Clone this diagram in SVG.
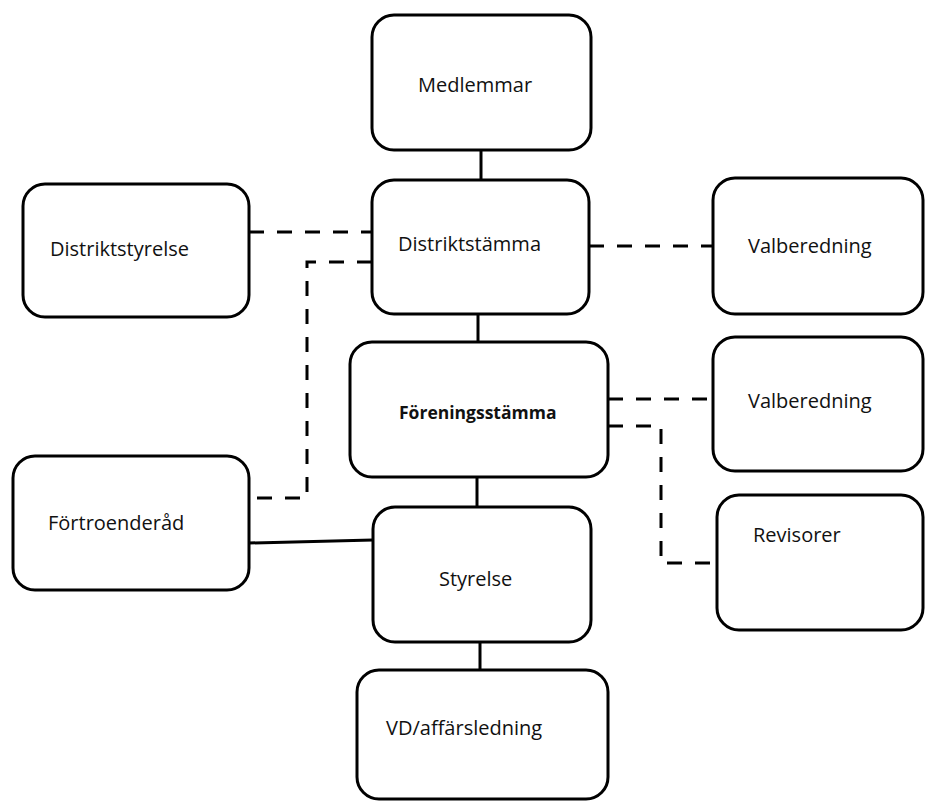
<svg xmlns="http://www.w3.org/2000/svg" width="926" height="801" viewBox="0 0 926 801">
<style>
.box{fill:#fff;stroke:#000;stroke-width:3}
.t{font-family:"Open Sans","Liberation Sans",sans-serif;font-size:20px;fill:#111}
.b{font-family:"Open Sans","Liberation Sans",sans-serif;font-size:17.5px;font-weight:bold;fill:#111}
.solid{fill:none;stroke:#000;stroke-width:3}
.dash{fill:none;stroke:#000;stroke-width:3;stroke-dasharray:15 13}
</style>
<rect width="926" height="801" fill="#fff"/>
<g id="connectors">
<line class="solid" x1="481" y1="150" x2="481" y2="180"/>
<line class="solid" x1="478" y1="314" x2="478" y2="342"/>
<line class="solid" x1="477" y1="477" x2="477" y2="507"/>
<line class="solid" x1="480" y1="642" x2="480" y2="670"/>
<line class="solid" x1="249" y1="543" x2="373" y2="540"/>
<line class="dash" x1="249" y1="232" x2="372" y2="232"/>
<polyline class="dash" points="372,262 307,262 307,498 249,498"/>
<line class="dash" x1="589" y1="246" x2="713" y2="246"/>
<line class="dash" x1="608" y1="399" x2="713" y2="399"/>
<polyline class="dash" points="608,426 661,426 661,563 717,563"/>
</g>
<g id="medlemmar"><rect class="box" x="372" y="15" width="219" height="135" rx="22"/><text class="t" x="418" y="92">Medlemmar</text></g>
<g id="distriktsstamma"><rect class="box" x="372" y="180" width="217" height="134" rx="22"/><text class="t" x="398" y="251">Distriktstämma</text></g>
<g id="distriktsstyrelse"><rect class="box" x="23" y="184" width="226" height="133" rx="22"/><text class="t" x="50" y="256">Distriktstyrelse</text></g>
<g id="valberedning1"><rect class="box" x="713" y="178" width="210" height="136" rx="22"/><text class="t" x="748" y="253">Valberedning</text></g>
<g id="foreningsstamma"><rect class="box" x="350" y="342" width="258" height="135" rx="22"/><text class="b" x="399" y="419">Föreningsstämma</text></g>
<g id="valberedning2"><rect class="box" x="713" y="337" width="210" height="134" rx="22"/><text class="t" x="748" y="408">Valberedning</text></g>
<g id="fortroenderad"><rect class="box" x="13" y="456" width="236" height="134" rx="22"/><text class="t" x="48" y="530">Förtroenderåd</text></g>
<g id="styrelse"><rect class="box" x="373" y="507" width="218" height="135" rx="22"/><text class="t" x="439" y="586">Styrelse</text></g>
<g id="revisorer"><rect class="box" x="717" y="495" width="206" height="135" rx="22"/><text class="t" x="753" y="542">Revisorer</text></g>
<g id="vd"><rect class="box" x="357" y="670" width="251" height="129" rx="22"/><text class="t" x="386" y="735">VD/affärsledning</text></g>
</svg>
